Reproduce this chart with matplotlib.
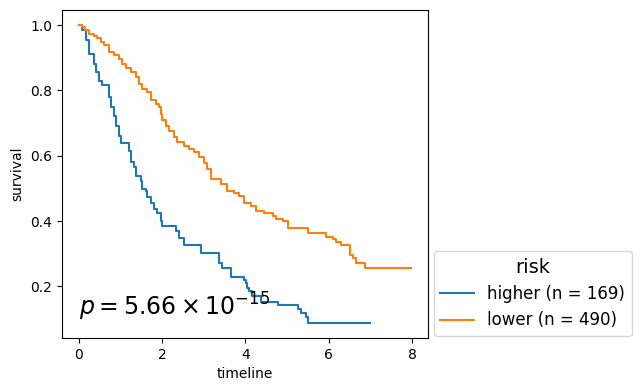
import numpy as np
import matplotlib
matplotlib.use("Agg")
import matplotlib.pyplot as plt

# Kaplan-Meier steps
higher_t = [0.0, 0.08, 0.17, 0.25, 0.37, 0.41, 0.49, 0.57, 0.73, 0.77, 0.85, 0.89,
            0.97, 1.01, 1.21, 1.25, 1.33, 1.37, 1.49, 1.53, 1.61, 1.65, 1.73, 1.81,
            1.89, 1.97, 2.01, 2.33, 2.41, 2.53, 2.93, 3.37, 3.45, 3.65, 3.97, 4.01,
            4.05, 4.09, 4.17, 4.37, 4.78, 5.26, 5.34, 5.46, 5.51, 7.0]
higher_s = [1.0, 0.985, 0.954, 0.91, 0.88, 0.856, 0.83, 0.815, 0.78, 0.749, 0.723, 0.692,
            0.66, 0.64, 0.615, 0.58, 0.564, 0.538, 0.523, 0.497, 0.492, 0.472, 0.456, 0.436,
            0.426, 0.40, 0.385, 0.369, 0.349, 0.328, 0.302, 0.272, 0.256, 0.228, 0.22, 0.21,
            0.195, 0.185, 0.169, 0.152, 0.142, 0.131, 0.118, 0.106, 0.087, 0.087]

lower_t = [0.0, 0.08, 0.16, 0.25, 0.37, 0.45, 0.53, 0.61, 0.73, 0.85, 0.97, 1.05,
           1.13, 1.25, 1.37, 1.45, 1.53, 1.65, 1.73, 1.85, 1.93, 1.97, 2.01, 2.09,
           2.17, 2.29, 2.37, 2.53, 2.65, 2.77, 2.89, 3.01, 3.09, 3.17, 3.41, 3.57,
           3.73, 3.85, 3.97, 4.13, 4.25, 4.45, 4.65, 4.73, 4.89, 5.01, 5.49, 5.94,
           6.10, 6.18, 6.30, 6.50, 6.58, 6.66, 6.86, 7.98]
lower_s = [1.0, 0.995, 0.985, 0.972, 0.966, 0.959, 0.949, 0.938, 0.918, 0.908, 0.897, 0.882,
           0.867, 0.856, 0.841, 0.82, 0.805, 0.795, 0.769, 0.759, 0.749, 0.728, 0.708, 0.692,
           0.677, 0.656, 0.641, 0.631, 0.621, 0.61, 0.595, 0.579, 0.559, 0.53, 0.513, 0.492,
           0.487, 0.477, 0.456, 0.446, 0.431, 0.426, 0.415, 0.405, 0.40, 0.379, 0.364, 0.351,
           0.344, 0.336, 0.326, 0.297, 0.287, 0.272, 0.256, 0.256]

labels = ["higher (n = 169)", "lower (n = 490)"]
p_text = r"$p = 5.66 \times 10^{-15}$"

fig = plt.figure(figsize=(6.42, 3.9), dpi=100)
ax = fig.add_axes([0.0966, 0.133, 0.570, 0.841])

ax.step(higher_t, higher_s, where="post", color="#1f77b4", lw=1.5, label=labels[0])
ax.step(lower_t, lower_s, where="post", color="#ff7f0e", lw=1.5, label=labels[1])

ax.set_xlabel("timeline")
ax.set_ylabel("survival")
ax.text(0.02, 0.11, p_text, fontsize=17, va="baseline", ha="left")

ax.legend(title="risk", loc="lower left", bbox_to_anchor=(1.016, 0.006),
          borderaxespad=0, fontsize=12, title_fontsize=14)

fig.savefig("out.png", dpi=100)
